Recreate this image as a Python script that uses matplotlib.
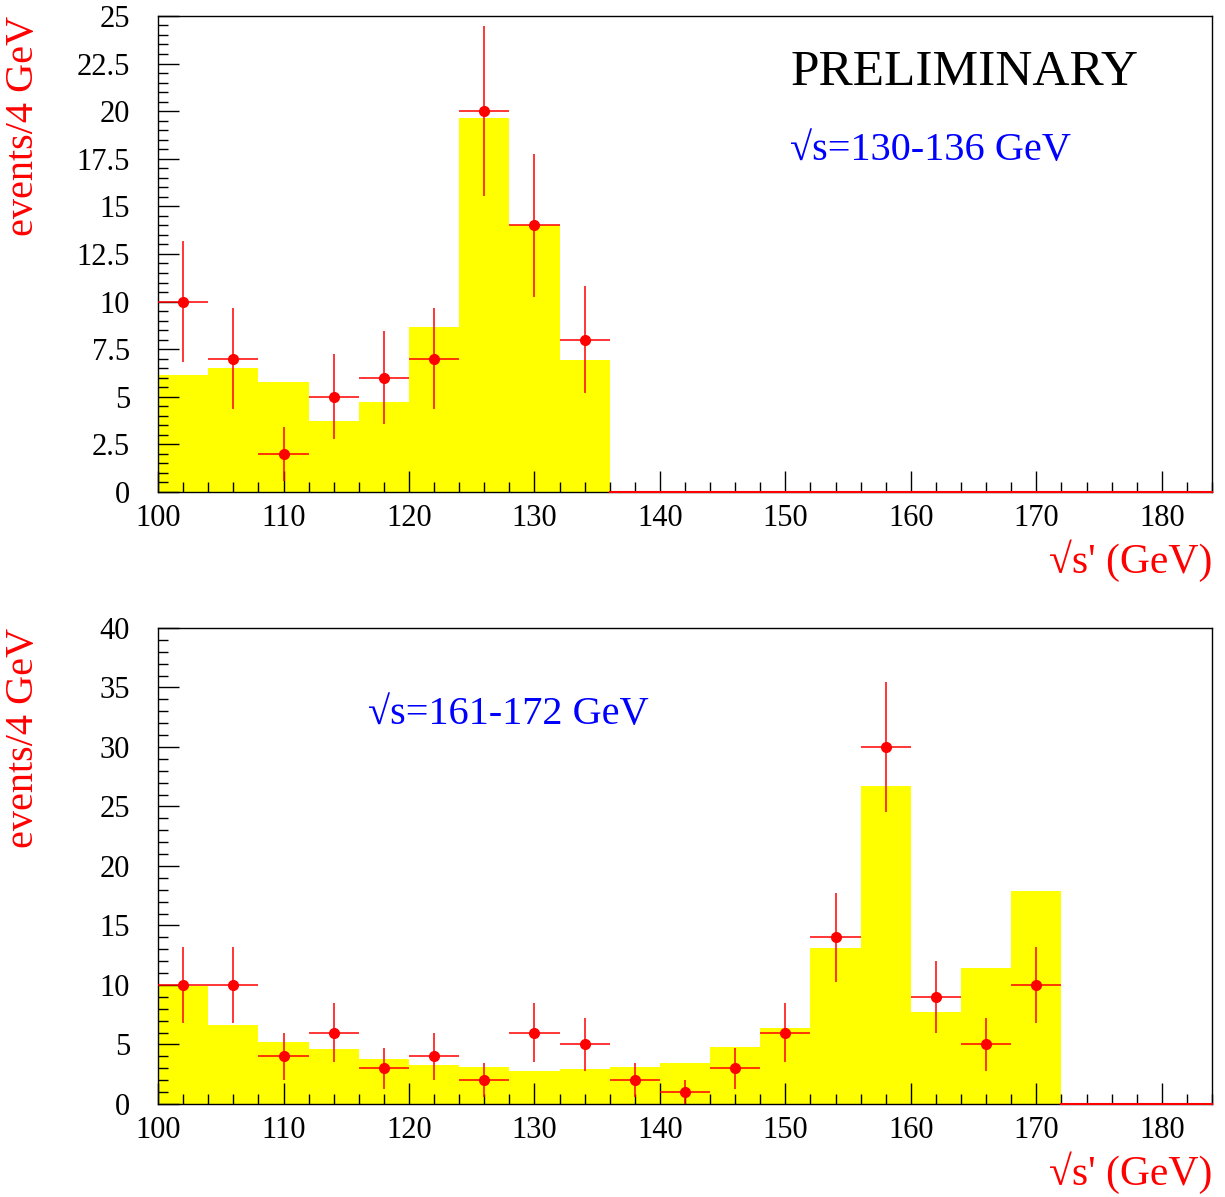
import numpy as np
import matplotlib
matplotlib.use("Agg")
import matplotlib.pyplot as plt
from matplotlib.ticker import MultipleLocator

plt.rcParams['font.family'] = ['Liberation Serif', 'DejaVu Serif']

# 4 GeV bins starting at 100 GeV
bin_width = 4.0
x_low = 100.0
x_high = 184.0

# sqrt(s)=130-136 GeV sample
mc_130 = [6.15, 6.5, 5.8, 3.75, 4.7, 8.65, 19.65, 14.0, 6.95]
data_130 = [10, 7, 2, 5, 6, 7, 20, 14, 8]

# sqrt(s)=161-172 GeV sample
mc_172 = [9.9, 6.65, 5.25, 4.65, 3.75, 3.3, 3.1, 2.75, 2.95,
          3.1, 3.45, 4.8, 6.35, 13.1, 26.7, 7.7, 11.45, 17.9]
data_172 = [10, 10, 4, 6, 3, 4, 2, 6, 5, 2, 1, 3, 6, 14, 30, 9, 5, 10]

top_labels = ["0", "2.5", "5", "7.5", "10", "12.5", "15", "17.5", "20", "22.5", "25"]
bottom_labels = ["0", "5", "10", "15", "20", "25", "30", "35", "40"]


def draw_panel(ax, mc, data, ymax, ymajor, yminor, ylabels, energy_text, text_pos):
    n = len(mc)
    edges = x_low + bin_width * np.arange(n)
    centers = edges + bin_width / 2
    ax.bar(edges, mc, width=bin_width, align='edge', color='#ffff00', linewidth=0, zorder=1)

    # empty bins above the last filled one
    ax.plot([edges[-1] + bin_width, x_high], [0, 0], color='red', lw=1.5,
            clip_on=False, zorder=4)

    counts = np.array(data, dtype=float)
    ax.errorbar(centers, counts, xerr=bin_width / 2, yerr=np.sqrt(counts),
                fmt='o', color='#ff0000', ecolor='#ff0000', elinewidth=1.1,
                markersize=7, capsize=0, zorder=3)

    ax.set_xlim(x_low, x_high)
    ax.set_ylim(0, ymax)
    ax.xaxis.set_major_locator(MultipleLocator(10))
    ax.xaxis.set_minor_locator(MultipleLocator(2))
    ax.yaxis.set_major_locator(MultipleLocator(ymajor))
    ax.yaxis.set_minor_locator(MultipleLocator(yminor))
    ax.set_yticks(np.arange(len(ylabels)) * ymajor)
    ax.set_yticklabels(ylabels)

    ax.tick_params(which='both', direction='in', top=False, right=False,
                   labelsize=22, colors='black', width=1.0)
    ax.tick_params(which='major', length=15, pad=9)
    ax.tick_params(which='minor', length=7)
    ax.tick_params(axis='y', which='major', pad=20)
    for s in ax.spines.values():
        s.set_linewidth(1.0)

    ax.text(1.0, -0.145, "\u221as' (GeV)", transform=ax.transAxes, ha='right',
            va='center', color='red', fontsize=30)
    ax.text(-0.128, 1.0, "events/4 GeV", transform=ax.transAxes, rotation=90,
            ha='center', va='top', color='red', fontsize=29)
    ax.text(text_pos[0], text_pos[1], energy_text, transform=ax.transAxes,
            ha='left', va='center', color='#0000ff', fontsize=29)


fig = plt.figure(figsize=(12.25, 11.97), dpi=100)
ax_top = fig.add_axes([0.129, 0.589, 0.8604, 0.3977])
ax_bot = fig.add_axes([0.129, 0.0777, 0.8604, 0.3977])

draw_panel(ax_top, mc_130, data_130, 25, 2.5, 0.5, top_labels,
           "\u221as=130-136 GeV", (0.60, 0.717))
ax_top.text(0.60, 0.881, "PRELIMINARY", transform=ax_top.transAxes,
            ha='left', va='center', color='black', fontsize=37)

draw_panel(ax_bot, mc_172, data_172, 40, 5, 1, bottom_labels,
           "\u221as=161-172 GeV", (0.199, 0.818))

fig.savefig("out.png", dpi=100)
